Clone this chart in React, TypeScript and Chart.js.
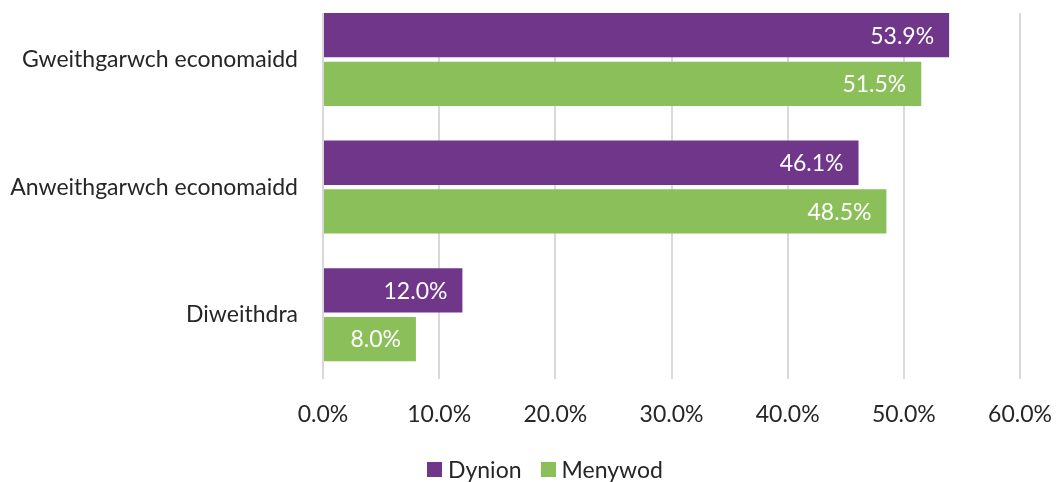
import React, { useEffect, useRef } from "react";
import { Chart, registerables } from "chart.js";

Chart.register(...registerables);

const categories = ["Gweithgarwch economaidd", "Anweithgarwch economaidd", "Diweithdra"];
const seriesNames = ["Dynion", "Menywod"];
const dynion = [53.9, 46.1, 12.0];
const menywod = [51.5, 48.5, 8.0];
const seriesColors = ["#6F368A", "#8BBF59"];
const axisMax = 60;
const axisStep = 10;

const FONT = "Lato, 'DejaVu Sans', sans-serif";
const FONT_SIZE = 23;
const TEXT_COLOR = "#262626";
const GRID_COLOR = "#D9D9D9";

const CANVAS_W = 1056;
const CANVAS_H = 512;
const CANVAS_TOP = -30;

const dataLabelPlugin = {
  id: "dataLabels",
  afterDatasetsDraw(chart: any) {
    const ctx = chart.ctx;
    ctx.save();
    ctx.font = `${FONT_SIZE}px ${FONT}`;
    ctx.fillStyle = "#FFFFFF";
    ctx.textAlign = "right";
    ctx.textBaseline = "middle";
    chart.data.datasets.forEach((ds: any, di: number) => {
      const meta = chart.getDatasetMeta(di);
      meta.data.forEach((bar: any, i: number) => {
        const v = ds.data[i];
        ctx.fillText(v.toFixed(1) + "%", bar.x - 15, bar.y + 1);
      });
    });
    ctx.restore();
  },
};

const topMaskPlugin = {
  id: "topMask",
  beforeDatasetsDraw(chart: any) {
    const ctx = chart.ctx;
    const { left, right } = chart.chartArea;
    ctx.save();
    ctx.fillStyle = "#FFFFFF";
    ctx.fillRect(left - 3, 0, right - left + 6, 13 - CANVAS_TOP);
    ctx.restore();
  },
};

const zeroPadding = (s: any) => {
  s.paddingLeft = 0;
  s.paddingRight = 0;
  s.paddingTop = 0;
  s.paddingBottom = 0;
};

export default function App() {
  const ref = useRef<HTMLCanvasElement | null>(null);

  useEffect(() => {
    if (!ref.current) return;
    const chart = new Chart(ref.current, {
      type: "bar",
      data: {
        labels: categories,
        datasets: [
          {
            label: seriesNames[0],
            data: dynion,
            backgroundColor: seriesColors[0],
            categoryPercentage: 0.763,
            barPercentage: 0.91,
          },
          {
            label: seriesNames[1],
            data: menywod,
            backgroundColor: seriesColors[1],
            categoryPercentage: 0.763,
            barPercentage: 0.91,
          },
        ],
      },
      options: {
        indexAxis: "y",
        responsive: false,
        animation: false,
        devicePixelRatio: 1,
        layout: { padding: { top: 25.7, left: 0, right: 36, bottom: 0 } },
        plugins: {
          legend: { display: false },
          tooltip: { enabled: false },
        },
        scales: {
          x: {
            min: 0,
            max: axisMax,
            ticks: {
              stepSize: axisStep,
              padding: 22,
              color: TEXT_COLOR,
              font: { family: FONT, size: FONT_SIZE },
              callback: (v: any) => Number(v).toFixed(1) + "%",
            },
            grid: { color: GRID_COLOR, lineWidth: 2, drawTicks: false },
            border: { display: false },
            afterFit: (s: any) => {
              s.height = 103.5;
              zeroPadding(s);
            },
          },
          y: {
            ticks: {
              padding: 25,
              color: TEXT_COLOR,
              font: { family: FONT, size: FONT_SIZE },
            },
            grid: { display: false, drawTicks: false },
            border: { display: false },
            afterFit: (s: any) => {
              s.width = 323;
              zeroPadding(s);
            },
          },
        },
      },
      plugins: [topMaskPlugin, dataLabelPlugin],
    });
    return () => chart.destroy();
  }, []);

  return (
    <div
      style={{
        position: "fixed",
        left: 0,
        top: 0,
        width: CANVAS_W,
        height: 482,
        overflow: "hidden",
        background: "#FFFFFF",
      }}
    >
      <canvas
        ref={ref}
        width={CANVAS_W}
        height={CANVAS_H}
        style={{ position: "absolute", left: 0, top: CANVAS_TOP, width: CANVAS_W, height: CANVAS_H }}
      />
      <div
        style={{
          position: "absolute",
          left: 427,
          top: 455,
          display: "flex",
          alignItems: "center",
          fontFamily: FONT,
          fontSize: FONT_SIZE,
          color: TEXT_COLOR,
          lineHeight: "28px",
        }}
      >
        {seriesNames.map((name, i) => (
          <div key={name} style={{ display: "flex", alignItems: "center", marginRight: i === 0 ? 19 : 0 }}>
            <span style={{ display: "inline-block", width: 15, height: 15, background: seriesColors[i], marginRight: 6 }} />
            <span>{name}</span>
          </div>
        ))}
      </div>
    </div>
  );
}
